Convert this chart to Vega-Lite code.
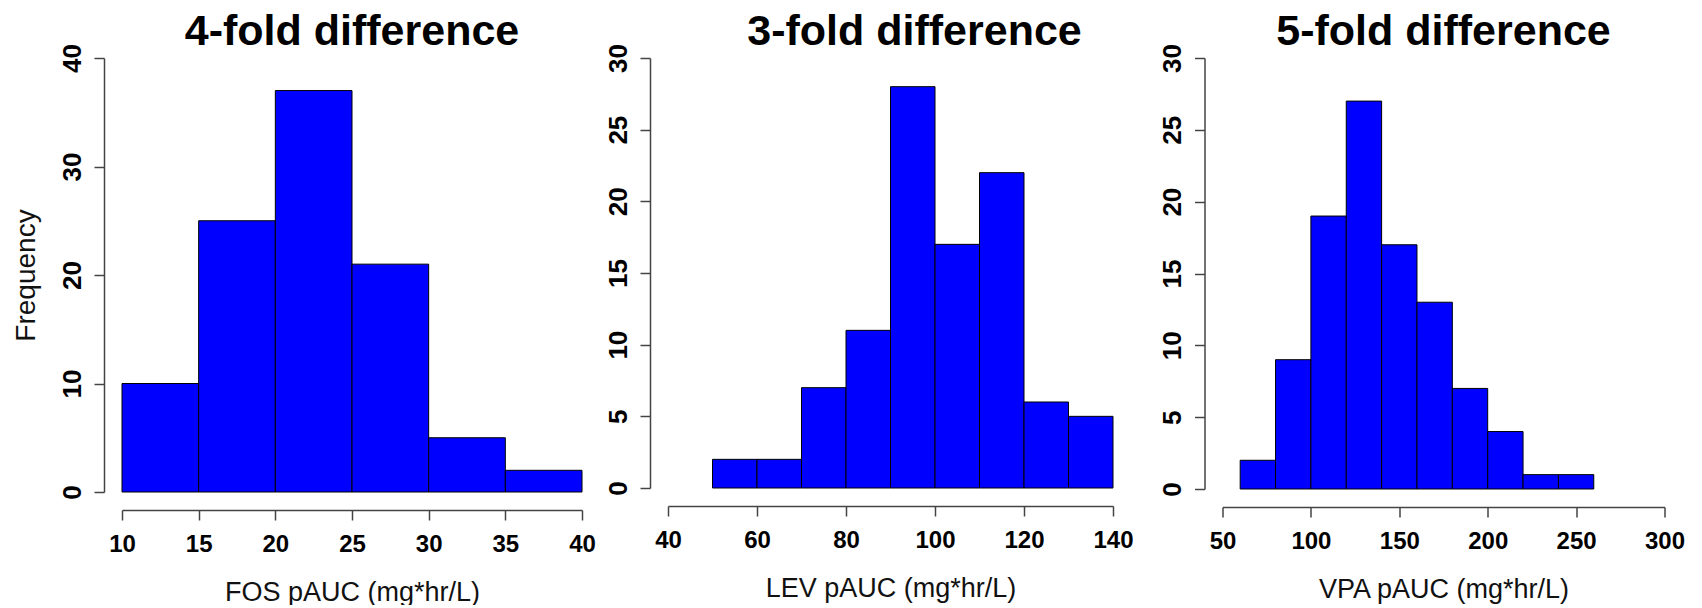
{
  "$schema": "https://vega.github.io/schema/vega-lite/v6.json",
  "padding": {"left": 12, "top": 10, "right": 0, "bottom": 0},
  "background": "white",
  "config": {
    "view": {"stroke": null},
    "font": "Liberation Sans",
    "axis": {
      "grid": false,
      "domainColor": "#444",
      "domainWidth": 1.5,
      "tickColor": "#444",
      "tickWidth": 1.5,
      "tickSize": 10,
      "offset": 18,
      "labelFont": "Liberation Sans",
      "labelFontWeight": "bold",
      "labelColor": "#000",
      "labelOverlap": false,
      "labelFlush": false,
      "titleFont": "Liberation Sans",
      "titleFontWeight": "normal",
      "titleColor": "#111",
      "titleFontSize": 27
    },
    "axisX": {"labelFontSize": 24, "labelPadding": 12, "labelBaseline": "top", "titlePadding": 23},
    "axisY": {"labelFontSize": 26, "labelAngle": -90, "labelAlign": "center", "labelBaseline": "alphabetic", "labelPadding": 14, "titlePadding": 19, "titleFontSize": 28},
    "title": {"font": "Liberation Sans", "fontSize": 43, "fontWeight": "bold", "color": "#000", "anchor": "middle", "frame": "group", "baseline": "alphabetic", "offset": -10},
    "bar": {"color": "#0000FF", "stroke": "#000", "strokeWidth": 1}
  },
  "bounds": "flush",
  "spacing": 86,
  "hconcat": [
    {
      "width": 460,
      "height": 434,
      "title": {"text": "4-fold difference"},
      "data": {"values": [
        {"lo": 10, "hi": 15, "count": 10},
        {"lo": 15, "hi": 20, "count": 25},
        {"lo": 20, "hi": 25, "count": 37},
        {"lo": 25, "hi": 30, "count": 21},
        {"lo": 30, "hi": 35, "count": 5},
        {"lo": 35, "hi": 40, "count": 2}
      ]},
      "mark": "bar",
      "encoding": {
        "x": {"field": "lo", "type": "quantitative", "scale": {"domain": [10, 40], "nice": false, "zero": false}, "axis": {"values": [10, 15, 20, 25, 30, 35, 40], "title": "FOS pAUC (mg*hr/L)"}},
        "x2": {"field": "hi"},
        "y": {"field": "count", "type": "quantitative", "scale": {"domain": [0, 40], "nice": false}, "axis": {"values": [0, 10, 20, 30, 40], "title": "Frequency"}},
        "y2": {"datum": 0}
      }
    },
    {
      "bounds": "flush",
      "spacing": 109.5,
      "hconcat": [
        {
          "width": 445,
          "height": 430,
          "title": {"text": "3-fold difference", "dx": 24},
          "data": {"values": [
            {"lo": 50, "hi": 60, "count": 2},
            {"lo": 60, "hi": 70, "count": 2},
            {"lo": 70, "hi": 80, "count": 7},
            {"lo": 80, "hi": 90, "count": 11},
            {"lo": 90, "hi": 100, "count": 28},
            {"lo": 100, "hi": 110, "count": 17},
            {"lo": 110, "hi": 120, "count": 22},
            {"lo": 120, "hi": 130, "count": 6},
            {"lo": 130, "hi": 140, "count": 5}
          ]},
          "mark": "bar",
          "encoding": {
            "x": {"field": "lo", "type": "quantitative", "scale": {"domain": [40, 140], "nice": false, "zero": false}, "axis": {"values": [40, 60, 80, 100, 120, 140], "title": "LEV pAUC (mg*hr/L)"}},
            "x2": {"field": "hi"},
            "y": {"field": "count", "type": "quantitative", "scale": {"domain": [0, 30], "nice": false}, "axis": {"values": [0, 5, 10, 15, 20, 25, 30], "title": null}},
            "y2": {"datum": 0}
          }
        },
        {
          "width": 442,
          "height": 431,
          "title": {"text": "5-fold difference"},
          "data": {"values": [
            {"lo": 60, "hi": 80, "count": 2},
            {"lo": 80, "hi": 100, "count": 9},
            {"lo": 100, "hi": 120, "count": 19},
            {"lo": 120, "hi": 140, "count": 27},
            {"lo": 140, "hi": 160, "count": 17},
            {"lo": 160, "hi": 180, "count": 13},
            {"lo": 180, "hi": 200, "count": 7},
            {"lo": 200, "hi": 220, "count": 4},
            {"lo": 220, "hi": 240, "count": 1},
            {"lo": 240, "hi": 260, "count": 1}
          ]},
          "mark": "bar",
          "encoding": {
            "x": {"field": "lo", "type": "quantitative", "scale": {"domain": [50, 300], "nice": false, "zero": false}, "axis": {"values": [50, 100, 150, 200, 250, 300], "title": "VPA pAUC (mg*hr/L)"}},
            "x2": {"field": "hi"},
            "y": {"field": "count", "type": "quantitative", "scale": {"domain": [0, 30], "nice": false}, "axis": {"values": [0, 5, 10, 15, 20, 25, 30], "title": null}},
            "y2": {"datum": 0}
          }
        }
      ]
    }
  ]
}
